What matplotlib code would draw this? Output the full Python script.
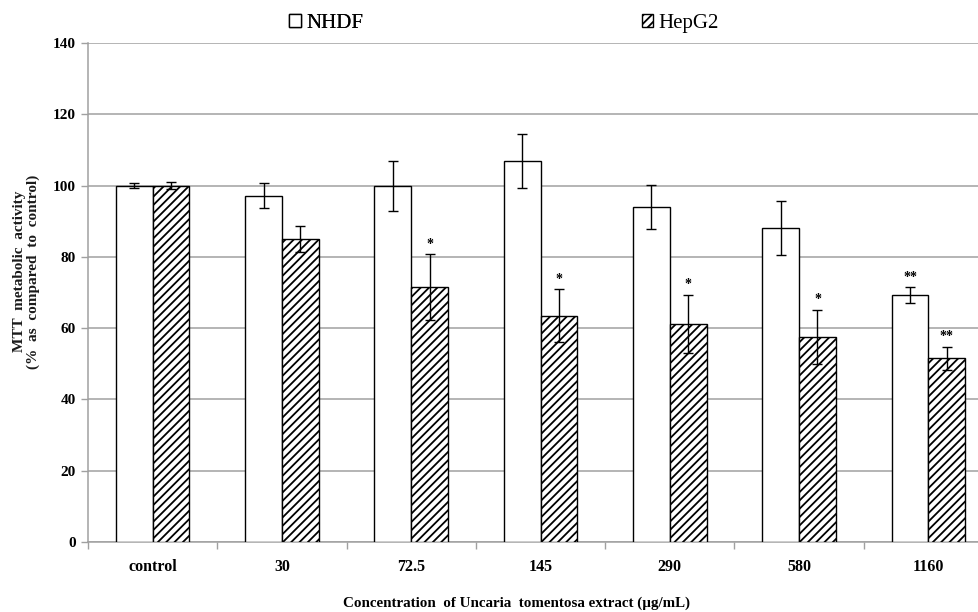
import numpy as np
import matplotlib
matplotlib.use("Agg")
import matplotlib.pyplot as plt
from matplotlib.patches import Patch

# data
categories = ["control", "30", "72.5", "145", "290", "580", "1160"]
nhdf = [100.0, 97.2, 100.0, 107.0, 94.1, 88.0, 69.3]
nhdf_err = [0.6, 3.5, 7.0, 7.6, 6.2, 7.6, 2.2]
hepg2 = [100.0, 85.1, 71.5, 63.5, 61.1, 57.6, 51.5]
hepg2_err = [1.0, 3.6, 9.2, 7.4, 8.2, 7.6, 3.2]
nhdf_stars = ["", "", "", "", "", "", "**"]
hepg2_stars = ["", "", "*", "*", "*", "*", "**"]

plt.rcParams["font.family"] = ["Liberation Serif", "DejaVu Serif"]
plt.rcParams["hatch.linewidth"] = 1.3

fig = plt.figure(figsize=(9.79, 6.12), dpi=100)
ax = fig.add_axes([0.0899, 0.1144, 0.9244, 0.8153])

x = np.arange(len(categories))
w = 0.285
grid_c = "#a0a0a0"

ax.bar(x - w / 2, nhdf, w, color="white", edgecolor="black", linewidth=1, zorder=3)
ax.bar(x + w / 2, hepg2, w, color="white", edgecolor="black", linewidth=1,
       hatch="////", zorder=3)
ax.errorbar(x - w / 2, nhdf, yerr=nhdf_err, fmt="none", ecolor="black",
            elinewidth=1, capsize=3.5, capthick=1, zorder=4)
ax.errorbar(x + w / 2, hepg2, yerr=hepg2_err, fmt="none", ecolor="black",
            elinewidth=1, capsize=3.5, capthick=1, zorder=4)

for i in range(len(categories)):
    if nhdf_stars[i]:
        ax.text(x[i] - w / 2, nhdf[i] + nhdf_err[i] + 1.0, nhdf_stars[i],
                ha="center", va="bottom", fontsize=10, fontweight="bold")
    if hepg2_stars[i]:
        ax.text(x[i] + w / 2, hepg2[i] + hepg2_err[i] + 1.0, hepg2_stars[i],
                ha="center", va="bottom", fontsize=10, fontweight="bold")

ax.set_xlim(-0.5, len(categories) - 0.5)
ax.set_ylim(0, 140)
ax.set_yticks(np.arange(0, 141, 20))
ax.yaxis.grid(True, color=grid_c, linewidth=1.1, zorder=0)
ax.set_axisbelow(True)

ax.set_xticks(x)
ax.set_xticklabels(categories, fontsize=11.5, fontweight="bold")
ax.set_xticks(np.arange(-0.5, len(categories), 1), minor=True)
ax.tick_params(axis="x", which="major", length=0, pad=12)
ax.tick_params(axis="x", which="minor", length=5, color=grid_c, width=1)
ax.tick_params(axis="y", length=5, color=grid_c, width=1, pad=4)
for lab in ax.get_yticklabels():
    lab.set_fontsize(11)
    lab.set_fontweight("bold")

for s in ["top", "right"]:
    ax.spines[s].set_visible(False)
for s in ["left", "bottom"]:
    ax.spines[s].set_color(grid_c)
    ax.spines[s].set_linewidth(1.1)

fig.text(0.027, 0.556, "MTT  metabolic  activity\n(%  as  compared  to  control)",
         rotation=90, ha="center", va="center", fontsize=11, fontweight="bold",
         color="#1a1a1a", linespacing=1.05, multialignment="center")
fig.text(0.528, 0.003, "Concentration  of Uncaria  tomentosa extract (\u00b5g/mL)",
         ha="center", va="bottom", fontsize=10.8, fontweight="bold")

h1 = Patch(facecolor="white", edgecolor="black", label="NHDF")
h2 = Patch(facecolor="white", edgecolor="black", hatch="////", label="HepG2")
leg1 = fig.legend(handles=[h1], loc="center left", bbox_to_anchor=(0.285, 0.962),
                  frameon=False, fontsize=15, handlelength=0.55, handleheight=0.6,
                  handletextpad=0.25, borderpad=0)
fig.legend(handles=[h2], loc="center left", bbox_to_anchor=(0.645, 0.962),
           frameon=False, fontsize=15, handlelength=0.55, handleheight=0.6,
           handletextpad=0.25, borderpad=0)
fig.add_artist(leg1)

fig.savefig("out.png", dpi=100)
